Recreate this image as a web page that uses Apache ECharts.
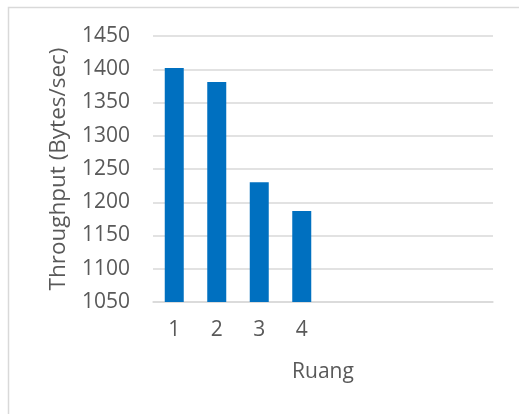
<!DOCTYPE html>
<html>
<head>
<meta charset="utf-8">
<script src="https://cdn.jsdelivr.net/npm/echarts@6/dist/echarts.min.js"></script>
<style>html,body{margin:0;padding:0;background:#fff}#c{width:519px;height:414px}</style>
</head>
<body>
<div id="c"></div>
<script>
var categories = ['1', '2', '3', '4', '', ' ', '  ', '   '];
var throughput = [1402, 1381, 1230, 1187];
var yTicks = [1050, 1100, 1150, 1200, 1250, 1300, 1350, 1400, 1450];
var xTitle = 'Ruang';
var yTitle = 'Throughput (Bytes/sec)';

var chart = echarts.init(document.getElementById('c'), null, {renderer: 'canvas'});
var font = '"Open Sans", "Noto Sans", sans-serif';
chart.setOption({
  animation: false,
  graphic: [{
    type: 'rect',
    shape: {x: 8.5, y: 7.5, width: 700, height: 700},
    style: {fill: 'none', stroke: '#d9d9d9', lineWidth: 1.5},
    silent: true
  }],
  grid: {left: 153, right: 26, top: 36, bottom: 112},
  xAxis: {
    type: 'category',
    data: categories,
    name: xTitle,
    nameLocation: 'middle',
    nameGap: 60,
    nameTextStyle: {fontFamily: font, fontSize: 21, color: '#595959'},
    axisLine: {lineStyle: {color: '#d9d9d9', width: 1.5}},
    axisTick: {show: false},
    axisLabel: {fontFamily: font, fontSize: 21, color: '#595959', margin: 18}
  },
  yAxis: {
    type: 'value',
    min: yTicks[0],
    max: yTicks[yTicks.length - 1],
    interval: yTicks[1] - yTicks[0],
    name: yTitle,
    nameLocation: 'middle',
    nameGap: 83,
    nameTextStyle: {fontFamily: font, fontSize: 22.5, color: '#595959'},
    axisLine: {show: false},
    axisTick: {show: false},
    axisLabel: {fontFamily: font, fontSize: 21, color: '#595959', margin: 23,
      formatter: function (v) { return String(v); }},
    splitLine: {lineStyle: {color: '#d9d9d9', width: 1.5}}
  },
  series: [{
    type: 'bar',
    data: throughput,
    barWidth: 19,
    itemStyle: {color: '#0070C0'}
  }]
});
</script>
</body>
</html>
